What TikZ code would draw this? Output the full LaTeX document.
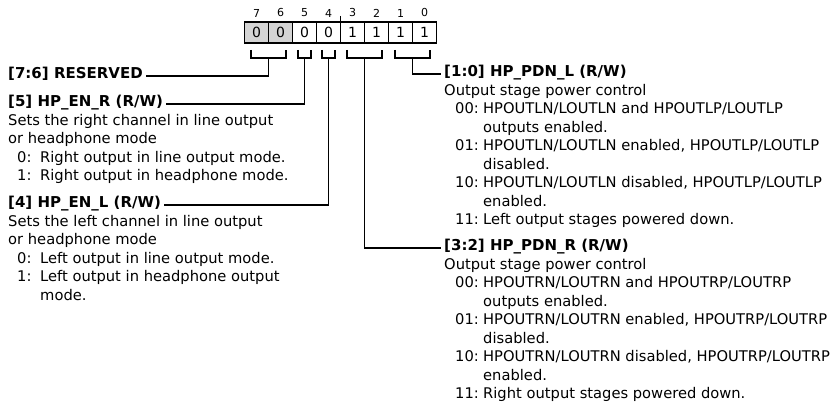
\documentclass[tikz,border=0pt]{standalone}
\usepackage{fontspec}
\setmainfont{DejaVu Sans}
\definecolor{cellgray}{RGB}{212,212,212}
\newcommand\litem[2]{\hspace*{9pt}\makebox[23pt][l]{#1}#2}
\newcommand\lcont[1]{\hspace*{32pt}#1}
\newcommand\ritem[2]{\hspace*{11pt}\makebox[28pt][l]{#1}#2}
\newcommand\rcont[1]{\hspace*{39pt}#1}
\newcommand\bodyblock[1]{\begin{tabular}[t]{@{}l@{}}#1\end{tabular}}
\begin{document}
\begin{tikzpicture}[x=1pt,y=-1pt,
  cell/.style={draw, line width=1.6pt, minimum width=24pt, minimum height=21pt, inner sep=0pt, font=\fontsize{14}{14}\selectfont},
  bitnum/.style={inner sep=0pt, font=\fontsize{11}{11}\selectfont},
  hdr/.style={anchor=base west, inner xsep=3pt, inner ysep=1pt, font=\fontsize{15}{18}\selectfont\bfseries},
  body/.style={anchor=base west, inner sep=0pt, font=\fontsize{14.7}{18.5}\selectfont},
  wire/.style={line width=1.8pt},
]
\useasboundingbox (0,0) rectangle (838,411);

% register cells
\node[cell, fill=cellgray] (c7) at (256.5,32.5) {0};
\node[cell, fill=cellgray] (c6) at (280.5,32.5) {0};
\node[cell] (c5) at (304.5,32.5) {0};
\node[cell] (c4) at (328.5,32.5) {0};
\node[cell] (c3) at (352.5,32.5) {1};
\node[cell] (c2) at (376.5,32.5) {1};
\node[cell] (c1) at (400.5,32.5) {1};
\node[cell] (c0) at (424.5,32.5) {1};
% bit numbers
\node[bitnum] (n7) at (256.5,13) {7};
\node[bitnum] (n6) at (280.5,13) {6};
\node[bitnum] (n5) at (304.5,13) {5};
\node[bitnum] (n4) at (328.5,13) {4};
\node[bitnum] (n3) at (352.5,13) {3};
\node[bitnum] (n2) at (376.5,13) {2};
\node[bitnum] (n1) at (400.5,13) {1};
\node[bitnum] (n0) at (424.5,13) {0};
% nibble tick
\coordinate (tk) at (340.5,16);
\draw[line width=1.3pt] (tk) -- (340.5,22);

% brackets
\draw[wire] (251,50) -- (251,58) -- (286,58) -- (286,50);
\draw[wire] (298,50) -- (298,58) -- (311,58) -- (311,50);
\draw[wire] (322,50) -- (322,58) -- (335,58) -- (335,50);
\draw[wire] (347,50) -- (347,58) -- (382,58) -- (382,50);
\draw[wire] (395,50) -- (395,58) -- (430,58) -- (430,50);
\coordinate (k76) at (268.5,58);
\coordinate (k5) at (304.5,58);
\coordinate (k4) at (328.5,58);
\coordinate (k32) at (364.5,58);
\coordinate (k10) at (412.5,58);

% left column
\node[hdr] (h76) at (5,79) {[7:6] RESERVED};
\node[hdr] (h5) at (5,107) {[5] HP\_EN\_R (R/W)};
\node[body] (d5) at (8,125.5) {\bodyblock{Sets the right channel in line output\\
or headphone mode\\
\litem{0:}{Right output in line output mode.}\\
\litem{1:}{Right output in headphone mode.}}};
\node[hdr] (h4) at (5,208) {[4] HP\_EN\_L (R/W)};
\node[body] (d4) at (8,226.5) {\bodyblock{Sets the left channel in line output\\
or headphone mode\\
\litem{0:}{Left output in line output mode.}\\
\litem{1:}{Left output in headphone output}\\
\lcont{mode.}}};

% right column
\node[hdr] (h10) at (441,77) {[1:0] HP\_PDN\_L (R/W)};
\node[body] (d10) at (444,95.5) {\bodyblock{Output stage power control\\
\ritem{00:}{HPOUTLN/LOUTLN and HPOUTLP/LOUTLP}\\
\rcont{outputs enabled.}\\
\ritem{01:}{HPOUTLN/LOUTLN enabled, HPOUTLP/LOUTLP}\\
\rcont{disabled.}\\
\ritem{10:}{HPOUTLN/LOUTLN disabled, HPOUTLP/LOUTLP}\\
\rcont{enabled.}\\
\ritem{11:}{Left output stages powered down.}}};
\node[hdr] (h32) at (441,251) {[3:2] HP\_PDN\_R (R/W)};
\node[body] (d32) at (444,269.5) {\bodyblock{Output stage power control\\
\ritem{00:}{HPOUTRN/LOUTRN and HPOUTRP/LOUTRP}\\
\rcont{outputs enabled.}\\
\ritem{01:}{HPOUTRN/LOUTRN enabled, HPOUTRP/LOUTRP}\\
\rcont{disabled.}\\
\ritem{10:}{HPOUTRN/LOUTRN disabled, HPOUTRP/LOUTRP}\\
\rcont{enabled.}\\
\ritem{11:}{Right output stages powered down.}}};

% connectors
\draw[wire] (k76) |- (h76.mid east);
\draw[wire] (k5) |- (h5.mid east);
\draw[wire] (k4) |- (h4.mid east);
\draw[wire] (k10) |- (h10.mid west);
\draw[wire] (k32) |- (h32.mid west);
\end{tikzpicture}
\end{document}
